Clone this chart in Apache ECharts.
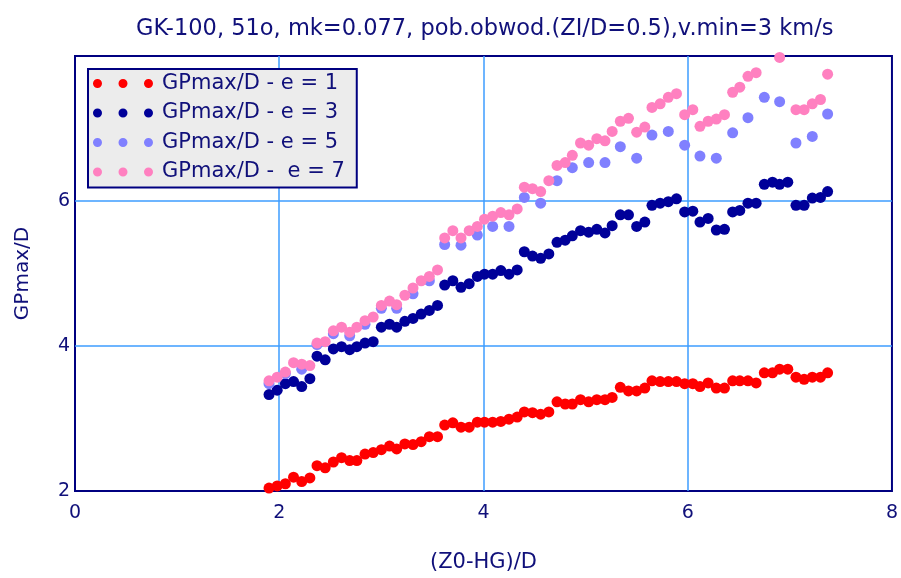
<!DOCTYPE html>
<html>
<head>
<meta charset="utf-8">
<title>GPmax/D</title>
<script src="https://cdn.jsdelivr.net/npm/echarts@6/dist/echarts.min.js"></script>
<style>
  html, body { margin: 0; padding: 0; background: #ffffff; }
  #chart { width: 901px; height: 578px; }
</style>
</head>
<body>
<div id="chart"></div>
<script>
// (Z0-HG)/D positions shared by the e = 1, 3, 7 series
const xValues = [
  1.90, 1.98, 2.06, 2.14, 2.22, 2.30, 2.37, 2.45, 2.53, 2.61,
  2.69, 2.76, 2.84, 2.92, 3.00, 3.08, 3.15, 3.23, 3.31, 3.39,
  3.47, 3.55, 3.62, 3.70, 3.78, 3.86, 3.94, 4.01, 4.09, 4.17,
  4.25, 4.33, 4.40, 4.48, 4.56, 4.64, 4.72, 4.80, 4.87, 4.95,
  5.03, 5.11, 5.19, 5.26, 5.34, 5.42, 5.50, 5.58, 5.65, 5.73,
  5.81, 5.89, 5.97, 6.05, 6.12, 6.20, 6.28, 6.36, 6.44, 6.51,
  6.59, 6.67, 6.75, 6.83, 6.90, 6.98, 7.06, 7.14, 7.22, 7.30,
  7.37
];

// GPmax/D, e = 1
const gpE1 = [
  2.04, 2.07, 2.10, 2.19, 2.13, 2.18, 2.35, 2.32, 2.40, 2.46,
  2.42, 2.42, 2.51, 2.53, 2.57, 2.62, 2.58, 2.65, 2.64, 2.68,
  2.75, 2.75, 2.91, 2.94, 2.88, 2.88, 2.95, 2.95, 2.95, 2.96,
  2.99, 3.02, 3.09, 3.08, 3.06, 3.09, 3.23, 3.20, 3.20, 3.26,
  3.23, 3.26, 3.26, 3.29, 3.43, 3.38, 3.38, 3.42, 3.52, 3.51,
  3.51, 3.51, 3.48, 3.48, 3.44, 3.49, 3.42, 3.42, 3.52, 3.52,
  3.52, 3.49, 3.63, 3.63, 3.68, 3.68, 3.57, 3.54, 3.57, 3.57,
  3.63
];

// GPmax/D, e = 3
const gpE3 = [
  3.33, 3.39, 3.48, 3.51, 3.44, 3.55, 3.86, 3.81, 3.96, 3.99,
  3.95, 3.99, 4.04, 4.06, 4.26, 4.30, 4.26, 4.34, 4.38, 4.44,
  4.49, 4.56, 4.84, 4.90, 4.81, 4.86, 4.96, 4.99, 4.99, 5.04,
  4.99, 5.05, 5.30, 5.24, 5.21, 5.27, 5.43, 5.46, 5.52, 5.59,
  5.57, 5.61, 5.56, 5.66, 5.81, 5.81, 5.65, 5.71, 5.94, 5.97,
  5.99, 6.03, 5.85, 5.86, 5.71, 5.76, 5.60, 5.61, 5.85, 5.87,
  5.97, 5.97, 6.23, 6.26, 6.23, 6.26, 5.94, 5.94, 6.04, 6.05,
  6.13
];

// GPmax/D, e = 5 (sampled on every second position)
const xValuesE5 = [
  1.90, 2.06, 2.22, 2.37, 2.53, 2.69, 2.84, 3.00, 3.15, 3.31,
  3.47, 3.62, 3.78, 3.94, 4.09, 4.25, 4.40, 4.56, 4.72, 4.87,
  5.03, 5.19, 5.34, 5.50, 5.65, 5.81, 5.97, 6.12, 6.28, 6.44,
  6.59, 6.75, 6.90, 7.06, 7.22, 7.37
];
const gpE5 = [
  3.48, 3.62, 3.68, 4.02, 4.17, 4.14, 4.30, 4.52, 4.52, 4.72,
  4.90, 5.40, 5.39, 5.53, 5.65, 5.65, 6.05, 5.97, 6.28, 6.46,
  6.53, 6.53, 6.75, 6.59, 6.91, 6.96, 6.77, 6.62, 6.59, 6.94,
  7.15, 7.43, 7.37, 6.80, 6.89, 7.20
];

// GPmax/D, e = 7 (null: above the plotted range)
const gpE7 = [
  3.52, 3.57, 3.64, 3.77, 3.75, 3.73, 4.04, 4.06, 4.21, 4.26,
  4.19, 4.26, 4.35, 4.40, 4.56, 4.62, 4.57, 4.70, 4.80, 4.90,
  4.96, 5.05, 5.49, 5.59, 5.49, 5.59, 5.65, 5.75, 5.79, 5.84,
  5.81, 5.89, 6.19, 6.17, 6.13, 6.28, 6.49, 6.53, 6.63, 6.80,
  6.77, 6.86, 6.83, 6.96, 7.10, 7.14, 6.95, 7.02, 7.29, 7.34,
  7.43, 7.48, 7.19, 7.26, 7.03, 7.10, 7.13, 7.19, 7.50, 7.57,
  7.72, 7.77, null, null, 7.98, null, 7.26, 7.26, 7.34, 7.40,
  7.75
];

const seriesNames = ['GPmax/D - e = 1', 'GPmax/D - e = 3', 'GPmax/D - e = 5', 'GPmax/D -  e = 7'];
const seriesColors = ['#ff0000', '#000099', '#8080ff', '#ff80c0'];

const xTicks = { min: 0, max: 8, step: 2 };
const yTicks = { min: 2, max: 8, step: 2 };

const titleText = 'GK-100, 51o, mk=0.077, pob.obwod.(ZI/D=0.5),v.min=3 km/s';
const xAxisName = '(Z0-HG)/D';
const yAxisName = 'GPmax/D';

function pairs(xs, ys) {
  const out = [];
  for (let i = 0; i < xs.length; i++) {
    if (ys[i] !== null) out.push([xs[i], ys[i]]);
  }
  return out;
}

const navy = '#10107a';
const gridBlue = '#3d9cff';
const font = 'DejaVu Sans';

// three dots, as the legend key of a point series
const dotsIcon = 'path://M0,4.5a4.5,4.5 0 1,0 9,0a4.5,4.5 0 1,0 -9,0z' +
  'M25.5,4.5a4.5,4.5 0 1,0 9,0a4.5,4.5 0 1,0 -9,0z' +
  'M51,4.5a4.5,4.5 0 1,0 9,0a4.5,4.5 0 1,0 -9,0z';

const seriesData = [
  pairs(xValues, gpE1),
  pairs(xValues, gpE3),
  pairs(xValuesE5, gpE5),
  pairs(xValues, gpE7)
];

const chart = echarts.init(document.getElementById('chart'), null, { renderer: 'canvas' });

chart.setOption({
  animation: false,
  backgroundColor: '#ffffff',
  title: {
    text: titleText,
    left: 136,
    top: 18,
    padding: 0,
    textStyle: { color: navy, fontFamily: font, fontSize: 22.5, fontWeight: 'normal' }
  },
  grid: {
    left: 75, right: 7, top: 56, bottom: 86,
    show: true,
    borderColor: '#000080',
    borderWidth: 2,
    backgroundColor: '#ffffff'
  },
  legend: {
    orient: 'vertical',
    left: 88,
    top: 69,
    padding: [4, 12, 5, 5],
    backgroundColor: '#ececec',
    borderColor: '#000080',
    borderWidth: 2,
    borderRadius: 0,
    itemWidth: 60,
    itemHeight: 9,
    itemGap: 8.5,
    icon: dotsIcon,
    selectedMode: false,
    textStyle: {
      color: navy, fontFamily: font, fontSize: 21, lineHeight: 21,
      padding: [0, 0, 0, 4]
    },
    data: seriesNames
  },
  xAxis: {
    type: 'value',
    min: xTicks.min, max: xTicks.max, interval: xTicks.step,
    name: xAxisName,
    nameLocation: 'middle',
    nameGap: 61,
    nameTextStyle: { color: navy, fontFamily: font, fontSize: 21 },
    axisLine: { show: false },
    axisTick: { show: false },
    axisLabel: { color: navy, fontFamily: font, fontSize: 19, margin: 13 },
    splitLine: {
      show: true, showMinLine: false, showMaxLine: false,
      lineStyle: { color: gridBlue, width: 1.5 }
    }
  },
  yAxis: {
    type: 'value',
    min: yTicks.min, max: yTicks.max, interval: yTicks.step,
    name: yAxisName,
    nameLocation: 'middle',
    nameGap: 42,
    nameTextStyle: { color: navy, fontFamily: font, fontSize: 20 },
    axisLine: { show: false },
    axisTick: { show: false },
    axisLabel: {
      color: navy, fontFamily: font, fontSize: 19, margin: 5,
      showMaxLabel: false, padding: [9, 0, 0, 0]
    },
    splitLine: {
      show: true, showMinLine: false, showMaxLine: false,
      lineStyle: { color: gridBlue, width: 1.5 }
    }
  },
  series: seriesNames.map((name, i) => ({
    name: name,
    type: 'scatter',
    symbol: 'circle',
    symbolSize: 11,
    itemStyle: { color: seriesColors[i], opacity: 1 },
    emphasis: { disabled: true },
    data: seriesData[i]
  }))
});
</script>
</body>
</html>
